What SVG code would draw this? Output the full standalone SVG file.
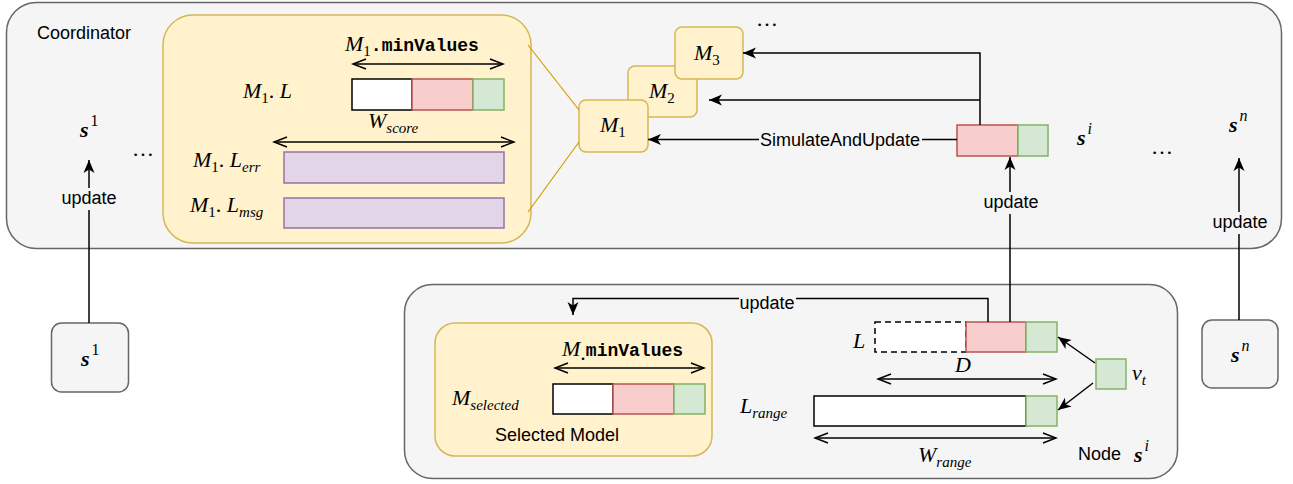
<svg xmlns="http://www.w3.org/2000/svg" width="1293" height="484" viewBox="0 0 1293 484">
<defs>
<style>
.container{fill:#f5f5f5;stroke:#666;stroke-width:1.5}
.yel{fill:#fff2cc;stroke:#d6b656;stroke-width:1.5}
.red{fill:#f8cecc;stroke:#b85450;stroke-width:1.5}
.grn{fill:#d5e8d4;stroke:#82b366;stroke-width:1.5}
.pur{fill:#e1d5e7;stroke:#9673a6;stroke-width:1.5}
.wht{fill:#fff;stroke:#000;stroke-width:1.5}
.dash{fill:#fff;stroke:#000;stroke-width:1.5;stroke-dasharray:6 4}
.sans{font-family:"Liberation Sans",Arial,sans-serif;font-size:18px;fill:#000}
.math{font-family:"Liberation Serif","Times New Roman",serif;font-size:22px;font-style:italic;fill:#000}
.bs{font-weight:bold}
.sub{font-size:15px;font-weight:normal}
.sup{font-size:16px;font-weight:normal}
.up{font-style:normal}
.mono{font-family:"Liberation Mono","Courier New",monospace;font-weight:bold;font-style:normal;font-size:18px}
.edge{fill:none;stroke:#000;stroke-width:1.5}
.ylink{fill:none;stroke:#d79b00;stroke-width:1.2}
.lbl{fill:#f5f5f5}
</style>
<marker id="arr" markerUnits="userSpaceOnUse" markerWidth="14" markerHeight="12" viewBox="0 0 14 12" refX="13" refY="6" orient="auto">
<path d="M0,0.5 L13,6 L0,11.5 L3.5,6 z" fill="#000"/>
</marker>
<marker id="open" markerUnits="userSpaceOnUse" markerWidth="16" markerHeight="14" viewBox="0 0 16 14" refX="14" refY="7" orient="auto-start-reverse">
<path d="M1,2 L14,7 L1,12" fill="none" stroke="#000" stroke-width="1.5"/>
</marker>
</defs>

<g id="coordinator">
<rect class="container" x="6.5" y="2.5" width="1275" height="246" rx="30"/>
<text class="sans" x="37" y="39">Coordinator</text>
<text class="math bs" x="80" y="137">s<tspan class="sup up" dx="2" dy="-11">1</tspan></text>
<text class="math up" x="132" y="156">…</text>
<text class="math bs" x="1077" y="145">s<tspan class="sup" dx="2" dy="-11">i</tspan></text>
<text class="math up" x="1151" y="154">…</text>
<text class="math bs" x="1229" y="132">s<tspan class="sup" dx="2" dy="-11">n</tspan></text>
<text class="math up" x="756" y="26">…</text>
</g>

<g id="model-detail">
<rect class="yel" x="163" y="15" width="368" height="228" rx="30"/>
<text class="math" x="345" y="51">M<tspan class="sub up" dy="5">1</tspan><tspan class="mono" dy="-5">.minValues</tspan></text>
<text class="math" x="243" y="98">M<tspan class="sub up" dy="5">1</tspan><tspan class="up" dy="-5">. </tspan>L</text>
<rect class="wht" x="352" y="79" width="60" height="31"/>
<rect class="red" x="412" y="79" width="61" height="31"/>
<rect class="grn" x="473" y="79" width="31" height="31"/>
<text class="math" x="368" y="128">W<tspan class="sub" dy="5">score</tspan></text>
<text class="math" x="193" y="167">M<tspan class="sub up" dy="5">1</tspan><tspan class="up" dy="-5">. </tspan>L<tspan class="sub" dy="5">err</tspan></text>
<rect class="pur" x="284" y="152" width="220" height="31"/>
<text class="math" x="190" y="212">M<tspan class="sub up" dy="5">1</tspan><tspan class="up" dy="-5">. </tspan>L<tspan class="sub" dy="5">msg</tspan></text>
<rect class="pur" x="284" y="198" width="220" height="30"/>
</g>

<g id="model-stack">
<rect class="yel" x="628" y="66" width="69" height="51" rx="7"/>
<text class="math" x="649" y="98">M<tspan class="sub up" dy="5">2</tspan></text>
<rect class="yel" x="579" y="100" width="69" height="52" rx="7"/>
<text class="math" x="600" y="132">M<tspan class="sub up" dy="5">1</tspan></text>
<rect class="yel" x="675" y="27" width="68" height="52" rx="7"/>
<text class="math" x="694" y="60">M<tspan class="sub up" dy="5">3</tspan></text>
</g>

<g id="coord-buffer">
<rect class="red" x="957" y="125" width="61" height="31"/>
<rect class="grn" x="1018" y="125" width="30" height="31"/>
</g>

<g id="node-si">
<rect class="container" x="404.5" y="284.5" width="773" height="194" rx="28"/>
<text class="sans" x="1078" y="460">Node</text>
<text class="math bs" x="1134" y="462">s<tspan class="sup" dx="2" dy="-11">i</tspan></text>
<text class="math" x="853" y="348">L</text>
<rect class="dash" x="875" y="322" width="91" height="30"/>
<rect class="red" x="966" y="322" width="60" height="30"/>
<rect class="grn" x="1026" y="322" width="31" height="30"/>
<text class="math" x="955" y="372">D</text>
<text class="math" x="740" y="413">L<tspan class="sub" dy="5">range</tspan></text>
<rect class="wht" x="814" y="396" width="212" height="30"/>
<rect class="grn" x="1026" y="396" width="31" height="30"/>
<text class="math" x="918" y="462">W<tspan class="sub" dy="5">range</tspan></text>
<rect class="grn" x="1096" y="359" width="30" height="30"/>
<text class="math" x="1132" y="380">v<tspan class="sub" dy="5">t</tspan></text>
</g>

<g id="selected-model">
<rect class="yel" x="435" y="323" width="277" height="133" rx="20"/>
<text class="math" x="562" y="356">M<tspan class="up" dy="4">.</tspan><tspan class="mono" dy="-4">minValues</tspan></text>
<text class="math" x="452" y="405">M<tspan class="sub" dy="5">selected</tspan></text>
<rect class="wht" x="553" y="384" width="60" height="30"/>
<rect class="red" x="613" y="384" width="61" height="30"/>
<rect class="grn" x="674" y="384" width="31" height="30"/>
<text class="sans" x="495" y="441">Selected Model</text>
</g>

<g id="s1">
<rect class="container" x="51.5" y="323" width="77" height="69" rx="10"/>
<text class="math bs" x="81" y="366">s<tspan class="sup up" dx="2" dy="-11">1</tspan></text>
</g>

<g id="sn">
<rect class="container" x="1202" y="320" width="76" height="68" rx="10"/>
<text class="math bs" x="1231" y="362">s<tspan class="sup" dx="2" dy="-11">n</tspan></text>
</g>

<g id="connectors">
<path class="ylink" d="M528,45 L579,110"/>
<path class="ylink" d="M528,212 L579,142"/>
<path class="edge" d="M353,64 L503,64" marker-start="url(#open)" marker-end="url(#open)"/>
<path class="edge" d="M274,142 L514,142" marker-start="url(#open)" marker-end="url(#open)"/>
<path class="edge" d="M555,368 L704,368" marker-start="url(#open)" marker-end="url(#open)"/>
<path class="edge" d="M878,379 L1056,379" marker-start="url(#open)" marker-end="url(#open)"/>
<path class="edge" d="M815,438 L1056,438" marker-start="url(#open)" marker-end="url(#open)"/>

<path class="edge" d="M980,125 L980,53 L743,53" marker-end="url(#arr)"/>
<path class="edge" d="M980,100 L709,100" marker-end="url(#arr)"/>
<path class="edge" d="M957,139.5 L648,139.5" marker-end="url(#arr)"/>
<rect class="lbl" x="759" y="127" width="163" height="24"/>
<text class="sans" x="840" y="146" text-anchor="middle">SimulateAndUpdate</text>

<path class="edge" d="M89,323 L89,160" marker-end="url(#arr)"/>
<rect class="lbl" x="61" y="188" width="56" height="22"/>
<text class="sans" x="89" y="204" text-anchor="middle">update</text>

<path class="edge" d="M1239,320 L1239,158" marker-end="url(#arr)"/>
<rect class="lbl" x="1212" y="212" width="56" height="22"/>
<text class="sans" x="1240" y="228" text-anchor="middle">update</text>

<path class="edge" d="M1010,322 L1010,157" marker-end="url(#arr)"/>
<rect class="lbl" x="983" y="192" width="56" height="22"/>
<text class="sans" x="1011" y="208" text-anchor="middle">update</text>

<path class="edge" d="M988,322 L988,298.5 L573,298.5 L573,315" marker-end="url(#arr)"/>
<rect class="lbl" x="739" y="290" width="57" height="22"/>
<text class="sans" x="767" y="309" text-anchor="middle">update</text>

<path class="edge" d="M1095,363 L1058,337" marker-end="url(#arr)"/>
<path class="edge" d="M1093,383 L1058,410" marker-end="url(#arr)"/>
</g>
</svg>
